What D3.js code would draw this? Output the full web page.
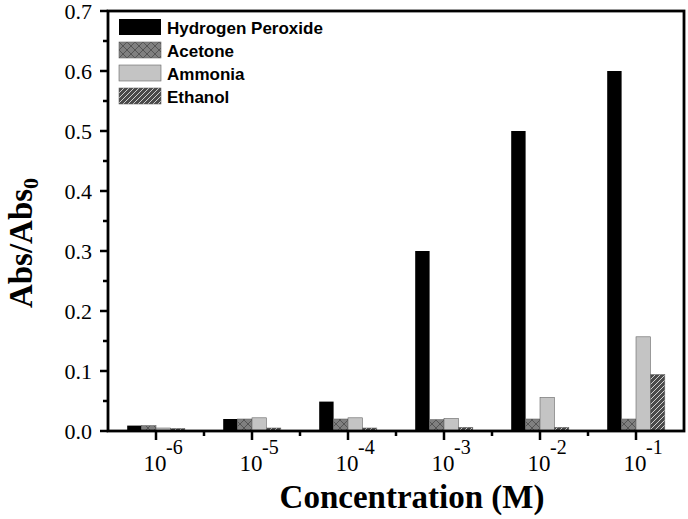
<!DOCTYPE html>
<html>
<head>
<meta charset="utf-8">
<script src="https://cdn.jsdelivr.net/npm/d3@7"></script>
<style>
body { margin: 0; background: #fff; }
svg { display: block; }
</style>
</head>
<body>
<svg width="688" height="519"></svg>
<script>
var exps = ['-6', '-5', '-4', '-3', '-2', '-1'];
var seriesNames = ['Hydrogen Peroxide', 'Acetone', 'Ammonia', 'Ethanol'];
var h2o2 = [0.009, 0.02, 0.049, 0.30, 0.50, 0.60];
var acetone = [0.009, 0.02, 0.02, 0.019, 0.02, 0.02];
var ammonia = [0.005, 0.022, 0.022, 0.021, 0.056, 0.157];
var ethanol = [0.004, 0.005, 0.005, 0.006, 0.006, 0.094];
var yTicks = [0, 0.1, 0.2, 0.3, 0.4, 0.5, 0.6, 0.7];

var allSeries = [h2o2, acetone, ammonia, ethanol];
var fills = ['#000', 'url(#cross)', '#c4c4c4', 'url(#diag)'];

var svg = d3.select('svg');
var pl = 108, pr = 684, pt = 11, pb = 431;

var defs = svg.append('defs');
var cross = defs.append('pattern').attr('id', 'cross').attr('patternUnits', 'userSpaceOnUse')
  .attr('width', 8).attr('height', 8);
cross.append('rect').attr('width', 8).attr('height', 8).attr('fill', '#808080');
cross.append('path').attr('d', 'M0,0 L8,8 M8,0 L0,8').attr('stroke', '#555').attr('stroke-width', 1);
var diag = defs.append('pattern').attr('id', 'diag').attr('patternUnits', 'userSpaceOnUse')
  .attr('width', 5).attr('height', 5);
diag.append('rect').attr('width', 5).attr('height', 5).attr('fill', '#4a4a4a');
diag.append('path').attr('d', 'M-1,6 L6,-1 M-1,1 L1,-1 M4,6 L6,4').attr('stroke', '#d0d0d0').attr('stroke-width', 1);

var x = d3.scaleBand().domain(exps).range([pl, pr]).padding(0);
var x1 = d3.scaleBand().domain(d3.range(4)).range([x.bandwidth() * 0.2, x.bandwidth() * 0.8]).padding(0);
var y = d3.scaleLinear().domain([0, 0.7]).range([pb, pt]);

// bars
allSeries.forEach(function(vals, si) {
  svg.append('g').selectAll('rect').data(vals).enter().append('rect')
    .attr('x', function(d, i) { return x(exps[i]) + x1(si); })
    .attr('y', function(d) { return y(d); })
    .attr('width', x1.bandwidth())
    .attr('height', function(d) { return y(0) - y(d); })
    .attr('fill', fills[si])
    .attr('stroke', si == 0 ? 'none' : '#666')
    .attr('stroke-width', 0.6);
});

// frame
svg.append('rect').attr('x', pl).attr('y', pt).attr('width', pr - pl).attr('height', pb - pt)
  .attr('fill', 'none').attr('stroke', '#000').attr('stroke-width', 2.8);

// y axis ticks
var yMinor = d3.range(0.05, 0.7, 0.1);
svg.append('g').selectAll('line').data(yTicks).enter().append('line')
  .attr('x1', pl - 8).attr('x2', pl).attr('y1', function(d) { return y(d); }).attr('y2', function(d) { return y(d); })
  .attr('stroke', '#000').attr('stroke-width', 2.5);
svg.append('g').selectAll('line').data(yMinor).enter().append('line')
  .attr('x1', pl - 5).attr('x2', pl).attr('y1', function(d) { return y(d); }).attr('y2', function(d) { return y(d); })
  .attr('stroke', '#000').attr('stroke-width', 2.5);
svg.append('g').selectAll('text').data(yTicks).enter().append('text')
  .attr('x', pl - 16).attr('y', function(d) { return y(d); }).attr('dy', '0.35em')
  .attr('text-anchor', 'end').attr('font-family', 'Liberation Serif').attr('font-size', 22)
  .text(function(d) { return d3.format('.1f')(d); });

// x axis ticks
svg.append('g').selectAll('line').data(exps).enter().append('line')
  .attr('x1', function(d) { return x(d) + x.bandwidth() / 2; }).attr('x2', function(d) { return x(d) + x.bandwidth() / 2; })
  .attr('y1', pb).attr('y2', pb + 9).attr('stroke', '#000').attr('stroke-width', 2.5);
svg.append('g').selectAll('line').data(exps.slice(1)).enter().append('line')
  .attr('x1', function(d) { return x(d); }).attr('x2', function(d) { return x(d); })
  .attr('y1', pb).attr('y2', pb + 5).attr('stroke', '#000').attr('stroke-width', 2.5);
var xl = svg.append('g').selectAll('g').data(exps).enter().append('g')
  .attr('transform', function(d) { return 'translate(' + (x(d) + x.bandwidth() / 2) + ',0)'; });
xl.append('text').attr('x', -1).attr('y', 471).attr('text-anchor', 'middle')
  .attr('font-family', 'Liberation Serif').attr('font-size', 23).text('10');
xl.append('text').attr('x', 10).attr('y', 454)
  .attr('font-family', 'Liberation Serif').attr('font-size', 20).text(function(d) { return d; });

// axis titles
svg.append('text').attr('x', 412).attr('y', 508).attr('text-anchor', 'middle')
  .attr('font-family', 'Liberation Serif').attr('font-weight', 'bold').attr('font-size', 33)
  .text('Concentration (M)');
var yt = svg.append('text').attr('transform', 'translate(32,243) rotate(-90)').attr('text-anchor', 'middle')
  .attr('font-family', 'Liberation Serif').attr('font-weight', 'bold').attr('font-size', 33);
yt.append('tspan').text('Abs/Abs');
yt.append('tspan').attr('font-size', 22).attr('dy', 6).text('0');

// legend
var lg = svg.append('g').selectAll('g').data(seriesNames).enter().append('g')
  .attr('transform', function(d, i) { return 'translate(119,' + (19 + i * 23) + ')'; });
lg.append('rect').attr('width', 42).attr('height', 16)
  .attr('fill', function(d, i) { return fills[i]; })
  .attr('stroke', function(d, i) { return i == 0 ? 'none' : '#666'; }).attr('stroke-width', 0.6);
lg.append('text').attr('x', 48).attr('y', 14.5)
  .attr('font-family', 'Liberation Sans').attr('font-weight', 'bold').attr('font-size', 17)
  .text(function(d) { return d; });
</script>
</body>
</html>
